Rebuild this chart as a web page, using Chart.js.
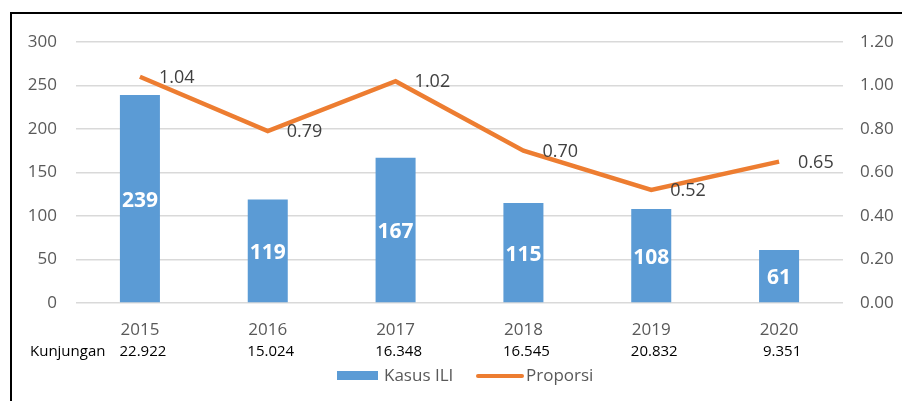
<!DOCTYPE html>
<html>
<head>
<meta charset="utf-8">
<script src="https://cdn.jsdelivr.net/npm/chart.js@4"></script>
<style>
  html, body { margin: 0; padding: 0; background: #fff; }
  #wrap { width: 902px; height: 401px; position: relative; }
</style>
</head>
<body>
<div id="wrap"><canvas id="chart" width="902" height="401"></canvas></div>
<script>
const years = ['2015', '2016', '2017', '2018', '2019', '2020'];
const kasusIli = [239, 119, 167, 115, 108, 61];
const proporsi = [1.04, 0.79, 1.02, 0.70, 0.52, 0.65];
const kunjungan = ['22.922', '15.024', '16.348', '16.545', '20.832', '9.351'];

const FONT = "'Open Sans', 'Noto Sans', sans-serif";
const BLUE = '#5B9BD5';
const ORANGE = '#ED7D31';
const GREY = '#595959';

// frame, bar labels, line labels, visit row and legend
const extras = {
  id: 'extras',
  beforeDraw(chart) {
    const ctx = chart.ctx;
    ctx.save();
    ctx.fillStyle = '#fff';
    ctx.fillRect(0, 0, chart.width, chart.height);
    ctx.strokeStyle = '#000';
    ctx.lineWidth = 2;
    ctx.beginPath();
    ctx.moveTo(11, chart.height);
    ctx.lineTo(11, 13);
    ctx.lineTo(chart.width, 13);
    ctx.stroke();
    ctx.restore();
  },
  afterDatasetsDraw(chart) {
    const ctx = chart.ctx;
    const x = chart.scales.x;
    ctx.save();

    // values inside bars
    ctx.font = 'bold 21px ' + FONT;
    ctx.fillStyle = '#fff';
    ctx.textAlign = 'center';
    ctx.textBaseline = 'middle';
    chart.getDatasetMeta(0).data.forEach((bar, i) => {
      ctx.fillText(String(kasusIli[i]), bar.x, (bar.y + bar.base) / 2 + 2);
    });

    // values next to line points
    ctx.font = '18px ' + FONT;
    ctx.fillStyle = '#404040';
    ctx.textAlign = 'left';
    chart.getDatasetMeta(1).data.forEach((pt, i) => {
      ctx.fillText(proporsi[i].toFixed(2), pt.x + 19, pt.y + 1);
    });

    // Kunjungan row
    ctx.font = '15px ' + FONT;
    ctx.fillStyle = '#000';
    ctx.textAlign = 'left';
    ctx.fillText('Kunjungan', 30, 352);
    ctx.textAlign = 'center';
    kunjungan.forEach((v, i) => {
      ctx.fillText(v, x.getPixelForValue(i) + 3, 352);
    });

    // legend
    ctx.font = '17px ' + FONT;
    ctx.fillStyle = BLUE;
    ctx.fillRect(337, 371, 41, 9);
    ctx.fillStyle = GREY;
    ctx.textAlign = 'left';
    ctx.fillText('Kasus ILI', 384, 376);
    ctx.strokeStyle = ORANGE;
    ctx.lineWidth = 4;
    ctx.lineCap = 'round';
    ctx.beginPath();
    ctx.moveTo(478, 376);
    ctx.lineTo(522, 376);
    ctx.stroke();
    ctx.fillText('Proporsi', 526, 376);
    ctx.restore();
  }
};

new Chart(document.getElementById('chart'), {
  data: {
    labels: years,
    datasets: [
      {
        type: 'bar',
        label: 'Kasus ILI',
        data: kasusIli,
        backgroundColor: BLUE,
        yAxisID: 'y',
        barPercentage: 0.313,
        categoryPercentage: 1,
        order: 2
      },
      {
        type: 'line',
        label: 'Proporsi',
        data: proporsi,
        borderColor: ORANGE,
        backgroundColor: ORANGE,
        borderWidth: 4.5,
        pointRadius: 0,
        tension: 0,
        yAxisID: 'y1',
        order: 1
      }
    ]
  },
  options: {
    responsive: false,
    animation: false,
    layout: { padding: { left: 10, top: 42, right: 0, bottom: 0 } },
    plugins: {
      legend: { display: false },
      tooltip: { enabled: false }
    },
    scales: {
      x: {
        grid: { display: false, drawTicks: false },
        border: { display: false },
        ticks: { color: GREY, font: { family: FONT, size: 17 }, padding: 17 },
        afterFit(s) { s.height = 98; }
      },
      y: {
        position: 'left',
        min: 0,
        max: 300,
        ticks: { stepSize: 50, color: GREY, font: { family: FONT, size: 17 }, padding: 19 },
        grid: { color: '#d9d9d9', lineWidth: 1.5, drawTicks: false },
        border: { display: false },
        afterFit(s) { s.width = 66; }
      },
      y1: {
        position: 'right',
        min: 0,
        max: 1.2,
        ticks: {
          stepSize: 0.2,
          color: GREY,
          font: { family: FONT, size: 17 },
          padding: 17,
          callback: v => v.toFixed(2)
        },
        grid: { display: false, drawTicks: false },
        border: { display: false },
        afterFit(s) { s.width = 59; }
      }
    }
  },
  plugins: [extras]
});
</script>
</body>
</html>
